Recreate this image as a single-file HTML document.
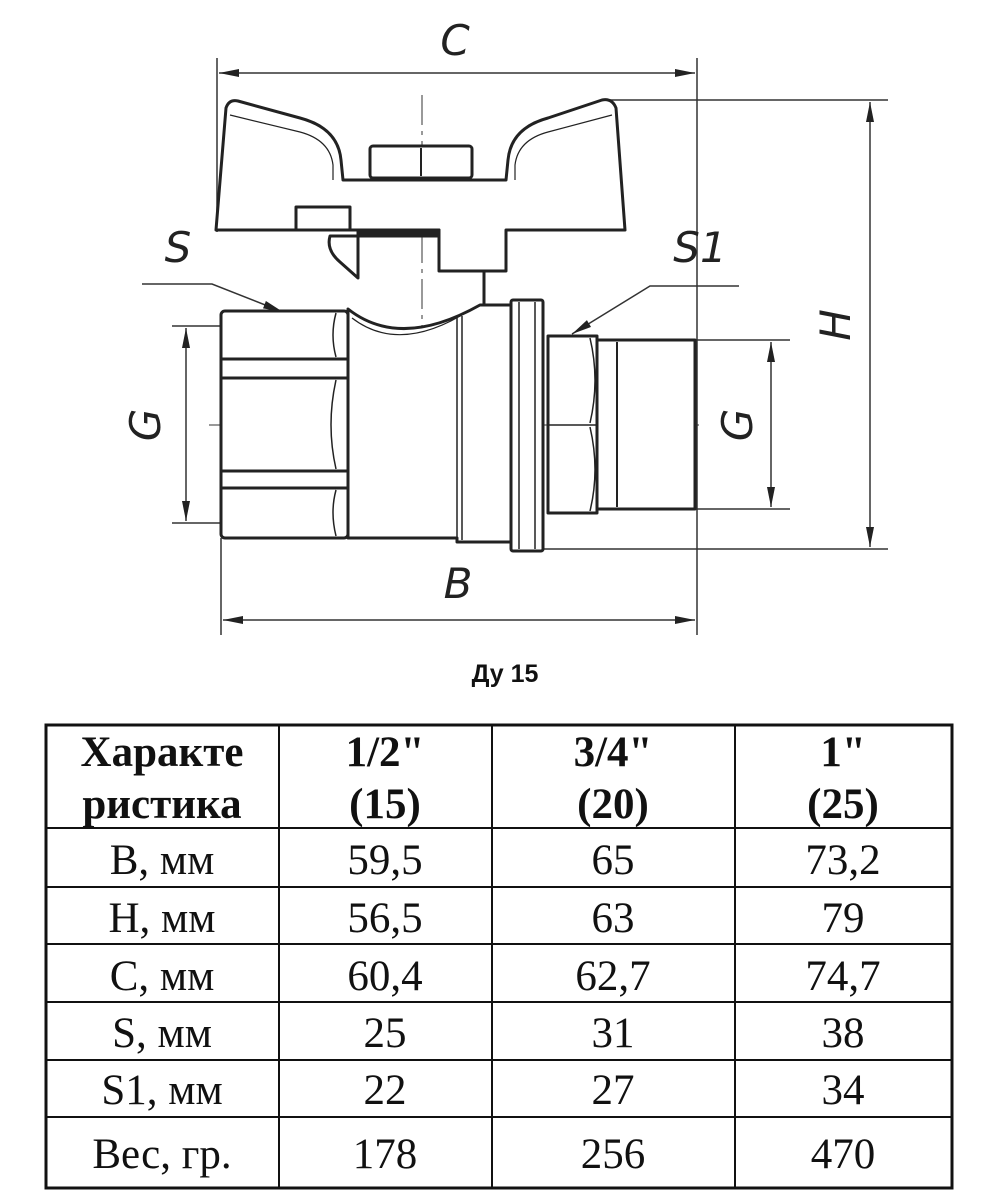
<!DOCTYPE html>
<html><head><meta charset="utf-8"><style>
html,body{margin:0;padding:0;background:#fff;width:1008px;height:1200px;overflow:hidden}
svg{display:block}
.t{font-family:"Liberation Serif",serif;font-size:43px;fill:#111;text-anchor:middle}
.b{font-weight:bold}
.lbl{font-family:"DejaVu Sans",sans-serif;font-style:italic;font-size:42px;fill:#222;text-anchor:middle;font-weight:normal}
</style></head><body>
<svg width="1008" height="1200" viewBox="0 0 1008 1200" xmlns="http://www.w3.org/2000/svg">
<defs>
<marker id="a" viewBox="0 0 20 8" refX="20" refY="4" markerWidth="20" markerHeight="8" markerUnits="userSpaceOnUse" orient="auto-start-reverse">
<path d="M0,0 L20,4 L0,8 Z" fill="#222"/></marker>
</defs>
<g stroke="#333" stroke-width="1.5" fill="none">
<line x1="217" y1="58" x2="217" y2="232"/>
<line x1="697" y1="58" x2="697" y2="635"/>
<line x1="219" y1="73" x2="695" y2="73" marker-start="url(#a)" marker-end="url(#a)"/>
<line x1="605" y1="100" x2="888" y2="100"/>
<line x1="540" y1="549" x2="888" y2="549"/>
<line x1="870" y1="102" x2="870" y2="547" marker-start="url(#a)" marker-end="url(#a)"/>
<line x1="172" y1="326" x2="221" y2="326"/>
<line x1="172" y1="523" x2="221" y2="523"/>
<line x1="186" y1="328" x2="186" y2="521" marker-start="url(#a)" marker-end="url(#a)"/>
<line x1="695" y1="340" x2="790" y2="340"/>
<line x1="695" y1="509" x2="790" y2="509"/>
<line x1="771" y1="342" x2="771" y2="507" marker-start="url(#a)" marker-end="url(#a)"/>
<line x1="221" y1="538" x2="221" y2="635"/>
<line x1="223" y1="620" x2="695" y2="620" marker-start="url(#a)" marker-end="url(#a)"/>
<polyline points="142,284 212,284 283,312" marker-end="url(#a)"/>
<polyline points="739,286 650,286 572,334" marker-end="url(#a)"/>
<line x1="209" y1="425" x2="703" y2="425" stroke-dasharray="30,6,4,6" stroke-width="1"/>
<line x1="422" y1="95" x2="422" y2="545" stroke-dasharray="30,6,4,6" stroke-width="1"/>
</g>
<g stroke="#222" stroke-width="3" fill="#fff" stroke-linejoin="round">
<path d="M216,230 L226,108 Q229,99 238,101 L300,118 Q338,128 341,160 L343,180 L506,180 L508,160 Q511,128 548,118 L602,100 Q612,98 616,108 L625,230 L506,230 L506,271 L439,271 L439,230 Z"/>
<path d="M230,115 L300,132 Q330,140 333,165 L333,180" stroke-width="1.2" fill="none"/>
<path d="M612,115 L548,132 Q518,140 515,165 L515,180" stroke-width="1.2" fill="none"/>
<rect x="370" y="146" width="102" height="32" rx="3"/>
<line x1="421" y1="148" x2="421" y2="176" stroke-width="2"/>
<rect x="296" y="207" width="54" height="23"/>
<rect x="358" y="230" width="81" height="6" fill="#222"/>
<path d="M330,236 L358,236 L358,278 L340,262 Q326,250 330,236 Z"/>
<line x1="484" y1="271" x2="484" y2="305"/>
<path d="M348,309 Q400,350 480,305 L511,305 L511,542 L457,542 L457,538 L348,538 Z"/>
<line x1="457" y1="318" x2="457" y2="538" stroke-width="1.5"/>
<line x1="462" y1="316" x2="462" y2="540" stroke-width="1.5"/>
<path d="M352,318 Q400,355 470,310" stroke-width="1.2" fill="none"/>
<rect x="221" y="311" width="127" height="227" rx="4"/>
<line x1="221" y1="359" x2="348" y2="359"/>
<line x1="221" y1="378" x2="348" y2="378"/>
<line x1="221" y1="471" x2="348" y2="471"/>
<line x1="221" y1="488" x2="348" y2="488"/>
<path d="M336,313 Q330,335 336,357 M336,380 Q326,425 336,469 M336,490 Q330,512 336,536" stroke-width="1.5" fill="none"/>
<rect x="511" y="300" width="32" height="251" rx="2"/>
<line x1="519" y1="302" x2="519" y2="549" stroke-width="1.5"/>
<line x1="535" y1="302" x2="535" y2="549" stroke-width="1.5"/>
<rect x="548" y="336" width="49" height="177"/>
<line x1="548" y1="425" x2="597" y2="425" stroke-width="1.5"/>
<path d="M590,338 Q600,380 590,423 M590,427 Q600,470 590,511" stroke-width="1.5" fill="none"/>
<rect x="597" y="340" width="98" height="169"/>
<line x1="617" y1="342" x2="617" y2="507" stroke-width="2"/>
</g>
<text class="lbl" x="455" y="55">C</text>
<text class="lbl" x="458" y="598">B</text>
<text class="lbl" x="178" y="262">S</text>
<text class="lbl" x="700" y="262">S1</text>
<text class="lbl" transform="translate(160,425) rotate(-90)">G</text>
<text class="lbl" transform="translate(752,425) rotate(-90)">G</text>
<text class="lbl" transform="translate(850,325) rotate(-90)">H</text>
<text x="505" y="682" style="font-family:'Liberation Sans',sans-serif;font-weight:bold;font-size:25px;text-anchor:middle;fill:#111">Ду 15</text>
<g stroke="#111" stroke-width="2" fill="none">
<rect x="46" y="725" width="906" height="463" stroke-width="3"/>
<line x1="46" y1="828" x2="952" y2="828"/>
<line x1="46" y1="887" x2="952" y2="887"/>
<line x1="46" y1="944" x2="952" y2="944"/>
<line x1="46" y1="1002" x2="952" y2="1002"/>
<line x1="46" y1="1060" x2="952" y2="1060"/>
<line x1="46" y1="1117" x2="952" y2="1117"/>
<line x1="279" y1="725" x2="279" y2="1188"/>
<line x1="492" y1="725" x2="492" y2="1188"/>
<line x1="735" y1="725" x2="735" y2="1188"/>
</g>
<g>
<text class="t b" x="162" y="766">Характе</text>
<text class="t b" x="162" y="818">ристика</text>
<text class="t b" x="385" y="766">1/2"</text>
<text class="t b" x="385" y="818">(15)</text>
<text class="t b" x="613" y="766">3/4"</text>
<text class="t b" x="613" y="818">(20)</text>
<text class="t b" x="843" y="766">1"</text>
<text class="t b" x="843" y="818">(25)</text>
<text class="t" x="162" y="874">B, мм</text><text class="t" x="385" y="874">59,5</text><text class="t" x="613" y="874">65</text><text class="t" x="843" y="874">73,2</text>
<text class="t" x="162" y="932">H, мм</text><text class="t" x="385" y="932">56,5</text><text class="t" x="613" y="932">63</text><text class="t" x="843" y="932">79</text>
<text class="t" x="162" y="990">C, мм</text><text class="t" x="385" y="990">60,4</text><text class="t" x="613" y="990">62,7</text><text class="t" x="843" y="990">74,7</text>
<text class="t" x="162" y="1047">S, мм</text><text class="t" x="385" y="1047">25</text><text class="t" x="613" y="1047">31</text><text class="t" x="843" y="1047">38</text>
<text class="t" x="162" y="1104">S1, мм</text><text class="t" x="385" y="1104">22</text><text class="t" x="613" y="1104">27</text><text class="t" x="843" y="1104">34</text>
<text class="t" x="162" y="1168">Вес, гр.</text><text class="t" x="385" y="1168">178</text><text class="t" x="613" y="1168">256</text><text class="t" x="843" y="1168">470</text>
</g>
</svg>
</body></html>
